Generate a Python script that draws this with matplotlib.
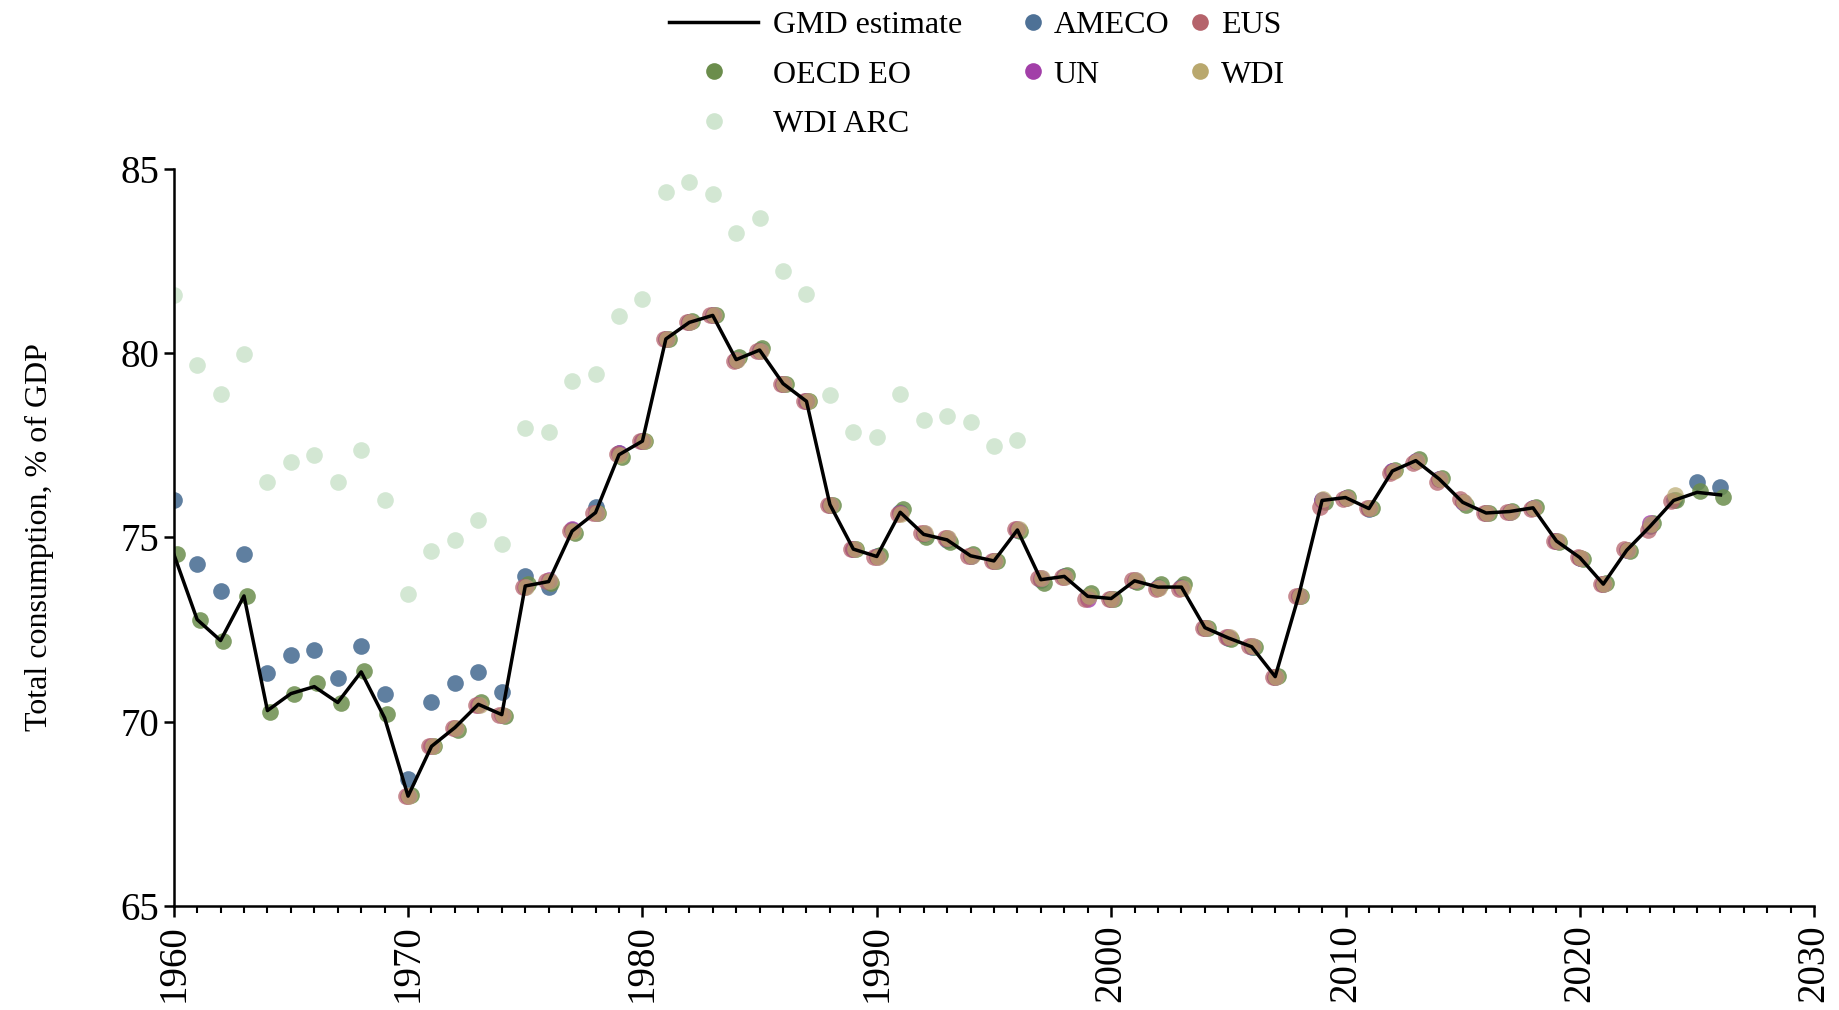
import numpy as np
import matplotlib.pyplot as plt
from matplotlib.lines import Line2D
from matplotlib.ticker import MultipleLocator

plt.rcParams['font.family'] = ['Liberation Serif', 'DejaVu Serif']

years = np.arange(1960, 2027)

# GMD estimate (line)
gmd = [74.55, 72.77, 72.20, 73.41, 70.30, 70.76, 70.95, 70.52, 71.35, 70.10,
       67.98, 69.33, 69.84, 70.47, 70.19, 73.68, 73.80, 75.17, 75.67, 77.24,
       77.61, 80.38, 80.83, 81.02, 79.82, 80.08, 79.17, 78.69, 75.89, 74.68,
       74.48, 75.68, 75.08, 74.93, 74.50, 74.36, 75.20, 73.85, 73.94, 73.40,
       73.34, 73.82, 73.65, 73.65, 72.55, 72.27, 72.03, 71.22, 73.41, 76.00,
       76.08, 75.78, 76.80, 77.08, 76.58, 75.95, 75.66, 75.70, 75.80, 74.90,
       74.45, 73.73, 74.65, 75.30, 76.00, 76.22, 76.15]

# AMECO 1960-2026
ameco = [76.02, 74.27, 73.54, 74.55, 71.31, 71.82, 71.94, 71.18, 72.04, 70.76,
         68.44, 70.54, 71.05, 71.34, 70.80, 73.95, 73.66, 75.19, 75.83, 77.30,
         77.61, 80.38, 80.83, 81.02, 79.82, 80.08, 79.17, 78.69, 75.89, 74.68,
         74.48, 75.68, 75.08, 74.93, 74.50, 74.36, 75.20, 73.85, 73.94, 73.40,
         73.34, 73.82, 73.65, 73.65, 72.55, 72.27, 72.03, 71.22, 73.41, 76.00,
         76.08, 75.78, 76.80, 77.08, 76.58, 75.95, 75.66, 75.70, 75.80, 74.90,
         74.45, 73.73, 74.65, 75.30, 76.02, 76.50, 76.37]

# OECD EO 1960-2026
oecd = [74.55, 72.77, 72.20, 73.41, 70.25, 70.76, 71.05, 70.50, 71.37, 70.20,
        68.00, 69.33, 69.78, 70.54, 70.16, 73.73, 73.76, 75.12, 75.67, 77.17,
        77.61, 80.38, 80.86, 81.02, 79.90, 80.13, 79.17, 78.69, 75.89, 74.68,
        74.52, 75.76, 75.00, 74.87, 74.55, 74.36, 75.16, 73.76, 73.98, 73.50,
        73.34, 73.79, 73.73, 73.73, 72.55, 72.23, 72.03, 71.24, 73.41, 75.96,
        76.10, 75.80, 76.82, 77.12, 76.62, 75.88, 75.66, 75.72, 75.82, 74.88,
        74.40, 73.75, 74.63, 75.38, 76.00, 76.25, 76.10]

# EUS 1970-2024
eus_years = np.arange(1970, 2025)
eus = [67.98, 69.33, 69.84, 70.45, 70.19, 73.66, 73.82, 75.16, 75.67, 77.26,
       77.61, 80.38, 80.83, 81.02, 79.78, 80.06, 79.17, 78.69, 75.89, 74.68,
       74.46, 75.64, 75.13, 74.97, 74.49, 74.36, 75.22, 73.89, 73.92, 73.34,
       73.34, 73.85, 73.60, 73.60, 72.55, 72.29, 72.04, 71.21, 73.41, 75.83,
       76.05, 75.80, 76.75, 77.02, 76.50, 76.05, 75.66, 75.70, 75.78, 74.90,
       74.47, 73.73, 74.67, 75.19, 75.98]

# UN 1970-2023
un_years = np.arange(1970, 2024)
un = [67.98, 69.33, 69.84, 70.45, 70.19, 73.66, 73.85, 75.22, 75.67, 77.30,
      77.61, 80.38, 80.83, 81.02, 79.80, 80.06, 79.17, 78.69, 75.89, 74.68,
      74.46, 75.66, 75.13, 74.97, 74.49, 74.36, 75.22, 73.89, 73.92, 73.34,
      73.34, 73.85, 73.62, 73.62, 72.55, 72.29, 72.04, 71.21, 73.41, 76.00,
      76.08, 75.80, 76.80, 77.08, 76.58, 75.95, 75.66, 75.70, 75.80, 74.90,
      74.45, 73.73, 74.65, 75.40]

# WDI 1970-2024
wdi = [67.98, 69.33, 69.84, 70.45, 70.19, 73.66, 73.82, 75.16, 75.67, 77.24,
       77.61, 80.38, 80.83, 81.02, 79.80, 80.06, 79.17, 78.69, 75.89, 74.68,
       74.46, 75.64, 75.13, 74.97, 74.49, 74.36, 75.22, 73.89, 73.92, 73.40,
       73.34, 73.85, 73.62, 73.62, 72.55, 72.29, 72.04, 71.21, 73.41, 76.05,
       76.08, 75.80, 76.80, 77.08, 76.58, 75.95, 75.66, 75.70, 75.80, 74.90,
       74.45, 73.73, 74.65, 75.35, 76.15]

# WDI ARC 1960-1996
arc_years = np.arange(1960, 1997)
arc = [81.56, 79.68, 78.89, 79.97, 76.50, 77.04, 77.23, 76.50, 77.36, 76.02,
       73.47, 74.62, 74.94, 75.48, 74.81, 77.96, 77.87, 79.24, 79.43, 80.99,
       81.46, 84.36, 84.65, 84.30, 83.25, 83.66, 82.23, 81.59, 78.85, 77.87,
       77.71, 78.89, 78.18, 78.28, 78.12, 77.48, 77.64]

c_ameco = '#4e7196'
c_eus = '#b5636b'
c_oecd = '#6b8d4c'
c_un = '#a23fa8'
c_wdi = '#b9a86e'
c_arc = '#cfe5cf'

fig = plt.figure(figsize=(18.4, 10.1), dpi=100)
ax = fig.add_axes([0.0944, 0.103, 0.8916, 0.730])

ms = 12
mk = dict(marker='o', linestyle='none', markersize=ms, markeredgewidth=0)
ax.plot(arc_years, arc, color=c_arc, alpha=0.9, **mk)
ax.plot(years, ameco, color=c_ameco, alpha=0.9, **mk)
ax.plot(years + 0.12, oecd, color=c_oecd, alpha=0.85, **mk)
ax.plot(un_years, un, color=c_un, alpha=0.8, **mk)
ax.plot(eus_years - 0.1, eus, color=c_eus, alpha=0.75, **mk)
ax.plot(eus_years + 0.05, wdi, color=c_wdi, alpha=0.7, **mk)
ax.plot(years, gmd, color='black', lw=2.5, zorder=3)

ax.set_xlim(1960, 2030)
ax.set_ylim(65, 85)
ax.xaxis.set_major_locator(MultipleLocator(10))
ax.xaxis.set_minor_locator(MultipleLocator(1))
ax.yaxis.set_major_locator(MultipleLocator(5))
ax.spines['top'].set_visible(False)
ax.spines['right'].set_visible(False)
ax.spines['left'].set_linewidth(1.8)
ax.spines['bottom'].set_linewidth(1.8)
ax.tick_params(axis='both', which='major', labelsize=28, width=1.8, length=7)
ax.tick_params(axis='x', which='major', length=8, pad=5)
ax.tick_params(axis='x', which='minor', length=5, width=1.5)
plt.setp(ax.get_xticklabels(), rotation=90)
ax.set_ylabel('Total consumption, % of GDP', fontsize=23, labelpad=48)

lg = dict(frameon=False, fontsize=23, borderpad=0, borderaxespad=0,
          labelspacing=0.62, loc='upper left')
top = 0.989
col1 = [Line2D([], [], color='black', lw=2.5),
        Line2D([], [], color=c_oecd, **mk),
        Line2D([], [], color=c_arc, **mk)]
fig.legend(col1, ['GMD estimate', 'OECD EO', 'WDI ARC'],
           bbox_to_anchor=(0.3636, top), handlelength=2.8,
           handletextpad=0.45, **lg)
col2 = [Line2D([], [], color=c_ameco, **mk), Line2D([], [], color=c_un, **mk)]
fig.legend(col2, ['AMECO', 'UN'], bbox_to_anchor=(0.556, top),
           handlelength=0.6, handletextpad=0.35, **lg)
col3 = [Line2D([], [], color=c_eus, **mk), Line2D([], [], color=c_wdi, **mk)]
fig.legend(col3, ['EUS', 'WDI'], bbox_to_anchor=(0.647, top),
           handlelength=0.6, handletextpad=0.35, **lg)

fig.savefig('out.png', dpi=100)
